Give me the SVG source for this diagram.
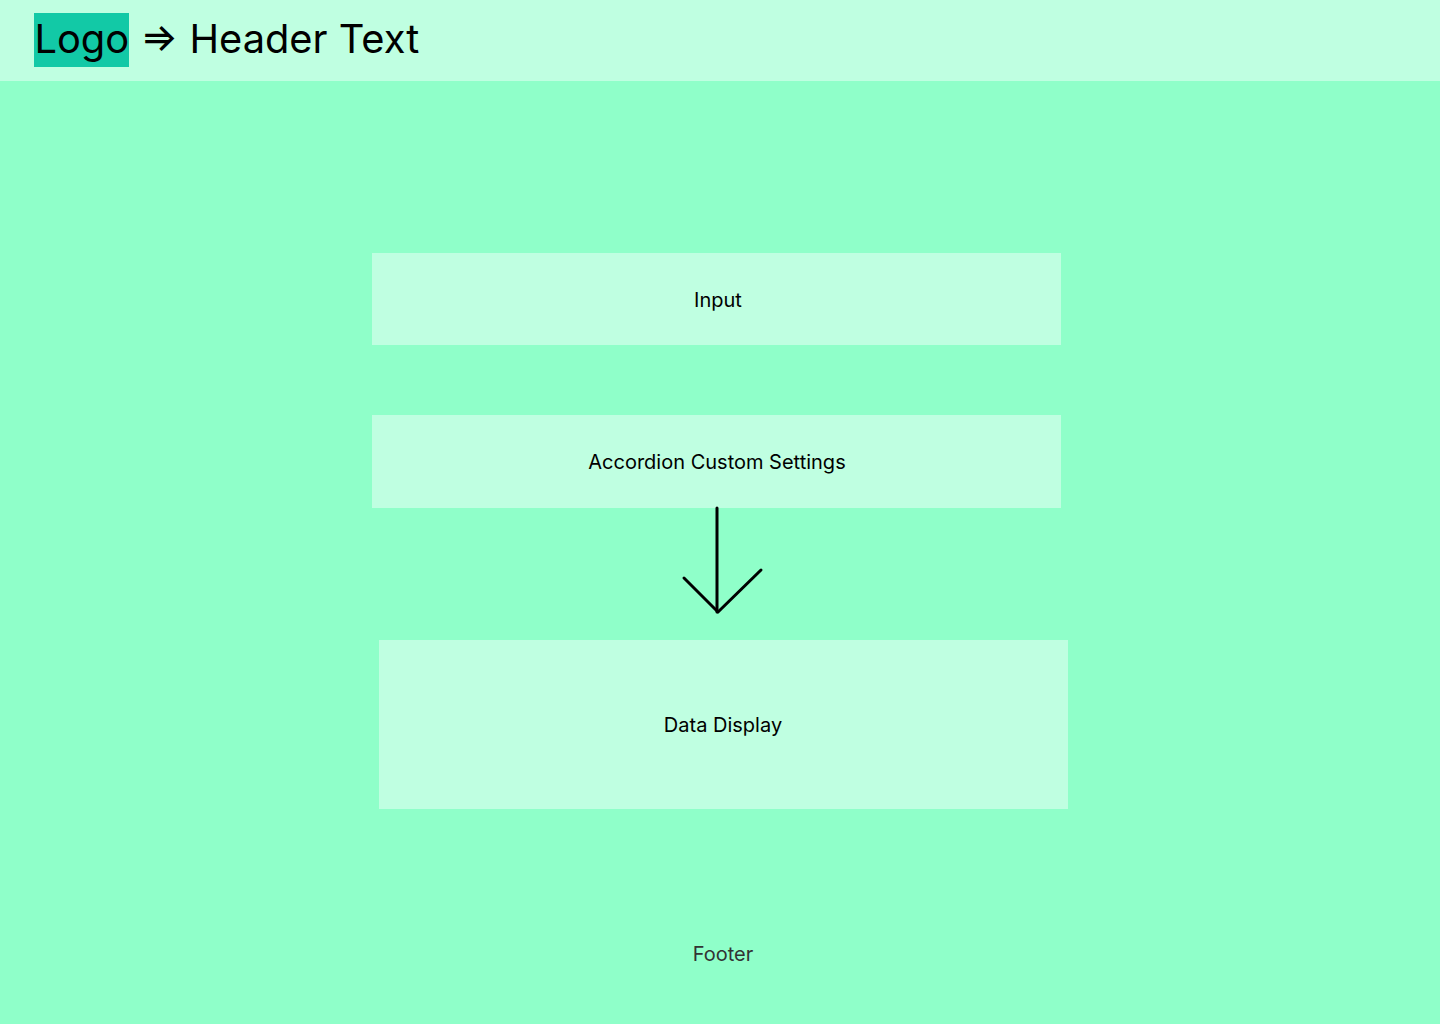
<svg xmlns="http://www.w3.org/2000/svg" width="1440" height="1024" viewBox="0 0 1440 1024">
  <defs>
    <style>
      .page { fill: #8fffc9; }
      .bar { fill: #bfffe1; }
      .box { fill: #bfffe1; }
      .label { font-family: Inter, "Noto Sans", "Liberation Sans", sans-serif; font-size: 20px; fill: #000; text-anchor: middle; }
      .title { font-family: Inter, "Noto Sans", "Liberation Sans", sans-serif; font-size: 39.8px; fill: #000; }
      .foot { font-family: Inter, "Noto Sans", "Liberation Sans", sans-serif; font-size: 20px; fill: #333; text-anchor: middle; }
      .conn { fill: none; stroke: #000; stroke-width: 3; stroke-linecap: round; stroke-linejoin: round; }
    </style>
  </defs>

  <!-- background and header bar -->
  <rect class="page" x="0" y="0" width="1440" height="1024"/>
  <g id="header">
    <rect class="bar" x="0" y="0" width="1440" height="81"/>
    <rect x="34" y="13" width="95" height="54" fill="#12c9a6"/>
    <text class="title" x="34.5" y="53">Logo ⇒ Header Text</text>
  </g>

  <g id="node-input">
    <rect class="box" x="372" y="253" width="689" height="92"/>
    <text class="label" x="718" y="307">Input</text>
  </g>

  <g id="node-accordion">
    <rect class="box" x="372" y="415" width="689" height="93"/>
    <text class="label" x="717" y="469">Accordion Custom Settings</text>
  </g>

  <g id="node-data-display">
    <rect class="box" x="379" y="640" width="689" height="169"/>
    <text class="label" x="723" y="732">Data Display</text>
  </g>

  <g id="connectors">
    <path class="conn" d="M717 508 V612"/>
    <path class="conn" d="M684 578 L718 612 L761 570"/>
  </g>

  <g id="footer">
    <text class="foot" x="723" y="961">Footer</text>
  </g>
</svg>
